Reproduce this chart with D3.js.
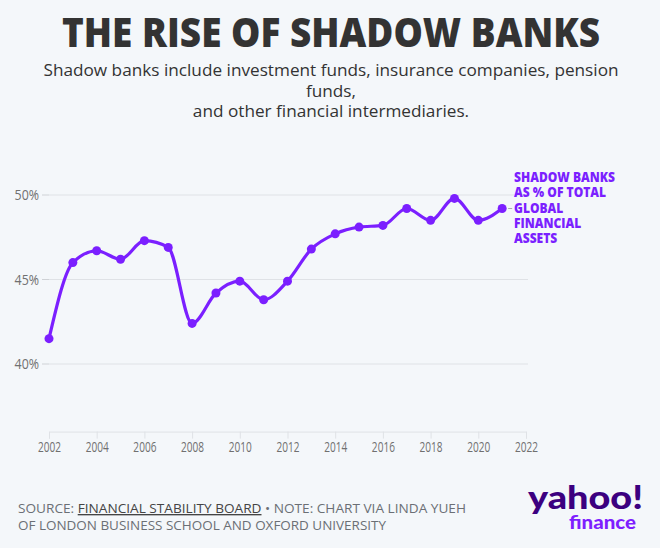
<!DOCTYPE html>
<html>
<head>
<meta charset="utf-8">
<script src="https://cdn.jsdelivr.net/npm/d3@7"></script>
<style>
  html, body { margin: 0; padding: 0; background: #f4f7fa; }
  svg { display: block; }
</style>
</head>
<body>
<svg id="chart"></svg>
<script>
// ----------------------------------------
//  Data
// ----------------------------------------

var years = [2002, 2003, 2004, 2005, 2006, 2007, 2008, 2009, 2010, 2011,
             2012, 2013, 2014, 2015, 2016, 2017, 2018, 2019, 2020, 2021];
var shadowShare = [41.5, 46.0, 46.7, 46.2, 47.3, 46.9, 42.4, 44.2, 44.9, 43.8,
                   44.9, 46.8, 47.7, 48.1, 48.2, 49.2, 48.5, 49.8, 48.5, 49.2];
var yTicks = [40, 45, 50];
var xTicks = [2002, 2004, 2006, 2008, 2010, 2012, 2014, 2016, 2018, 2020, 2022];
var seriesLabel = ["SHADOW BANKS", "AS % OF TOTAL", "GLOBAL", "FINANCIAL", "ASSETS"];
var subtitleLines = ["Shadow banks include investment funds, insurance companies, pension",
                     "funds,", "and other financial intermediaries."];

var data = years.map(function(y, i) { return { year: y, value: shadowShare[i] }; });

// ----------------------------------------
// Sizing
// ----------------------------------------

var width = 660, height = 548;
var purple = "#7b1fff";
var sans = "'Open Sans', sans-serif";

var svg = d3.select('#chart').attr("width", width).attr("height", height);

svg.append("rect").attr("width", width).attr("height", height).attr("fill", "#f4f7fa");

// squeeze text horizontally (no condensed font installed)
function squeeze(sel, k) {
  sel.each(function() {
    var len = this.getComputedTextLength();
    d3.select(this).attr("textLength", len * k).attr("lengthAdjust", "spacingAndGlyphs");
  });
}

// ----------------------------------------
// Scales
// ----------------------------------------

var x = d3.scaleLinear().domain([2002, 2022]).range([49, 526]);
var y = d3.scaleLinear().domain([36, 52]).range([431.6, 161.2]);

// ----------------------------------------
// Titles
// ----------------------------------------

svg.append("text")
  .attr("x", 331).attr("y", 47)
  .attr("text-anchor", "middle")
  .attr("font-family", sans).attr("font-weight", 800)
  .attr("font-size", 41).attr("fill", "#333")
  .attr("textLength", 538).attr("lengthAdjust", "spacingAndGlyphs")
  .text("THE RISE OF SHADOW BANKS");

svg.selectAll(".sub").data(subtitleLines).enter().append("text")
  .attr("class", "sub")
  .attr("x", 331).attr("y", function(d, i) { return 76 + i * 20.7; })
  .attr("text-anchor", "middle")
  .attr("font-family", sans)
  .attr("font-size", 17.2).attr("fill", "#333")
  .text(function(d) { return d; });

// ----------------------------------------
// Axes and grid
// ----------------------------------------

var grid = svg.append("g");
grid.selectAll("line").data(yTicks).enter().append("line")
  .attr("x1", 49).attr("x2", 528)
  .attr("y1", function(d) { return y(d); }).attr("y2", function(d) { return y(d); })
  .attr("stroke", "#dfe2e6").attr("stroke-width", 1);
// short ticks left of the grid
grid.selectAll(".yt").data(yTicks).enter().append("line")
  .attr("x1", 42).attr("x2", 49)
  .attr("y1", function(d) { return y(d); }).attr("y2", function(d) { return y(d); })
  .attr("stroke", "#cfd2d6").attr("stroke-width", 1);

var ylab = svg.selectAll(".ylab").data(yTicks).enter().append("text")
  .attr("class", "ylab")
  .attr("x", 39).attr("y", function(d) { return y(d) + 5; })
  .attr("text-anchor", "end")
  .attr("font-family", sans).attr("font-size", 13.8).attr("fill", "#707070")
  .text(function(d) { return d + "%"; });
squeeze(ylab, 0.9);

var xAxis = svg.append("g")
  .attr("transform", "translate(0," + y(36) + ")")
  .call(d3.axisBottom(x).tickValues(xTicks).tickFormat(d3.format("d")).tickSize(7).tickPadding(3));
xAxis.select(".domain").attr("stroke", "#dfe2e6");
xAxis.selectAll(".tick line").attr("stroke", "#dfe2e6");
xAxis.selectAll("text")
  .attr("font-family", sans).attr("font-size", 14).attr("fill", "#707070");
squeeze(xAxis.selectAll("text"), 0.72);

// ----------------------------------------
// Line and points
// ----------------------------------------

var line = d3.line()
  .x(function(d) { return x(d.year); })
  .y(function(d) { return y(d.value); })
  .curve(d3.curveMonotoneX);

svg.append("path").datum(data)
  .attr("d", line)
  .attr("fill", "none").attr("stroke", purple).attr("stroke-width", 3.2);

svg.selectAll(".dot").data(data).enter().append("circle")
  .attr("class", "dot")
  .attr("cx", function(d) { return x(d.year); })
  .attr("cy", function(d) { return y(d.value); })
  .attr("r", 4.5).attr("fill", purple);

// label next to the last point
var last = data[data.length - 1];
svg.append("line")
  .attr("x1", x(last.year) + 6).attr("x2", x(last.year) + 10)
  .attr("y1", y(last.value)).attr("y2", y(last.value))
  .attr("stroke", "#aaa");

var slab = svg.selectAll(".slab").data(seriesLabel).enter().append("text")
  .attr("class", "slab")
  .attr("x", 514).attr("y", function(d, i) { return 182 + i * 15.3; })
  .attr("font-family", sans).attr("font-weight", 800)
  .attr("font-size", 14.5).attr("fill", purple)
  .text(function(d) { return d; });
squeeze(slab, 101 / slab.node().getComputedTextLength());

// ----------------------------------------
// Footer
// ----------------------------------------

var foot = svg.append("text")
  .attr("x", 18).attr("y", 513)
  .attr("font-family", sans).attr("font-size", 13.5).attr("fill", "#6b6f75")
  .attr("textLength", 448).attr("lengthAdjust", "spacingAndGlyphs");
foot.append("tspan").text("SOURCE: ");
foot.append("tspan").attr("text-decoration", "underline").attr("fill", "#444").text("FINANCIAL STABILITY BOARD");
foot.append("tspan").text(" \u2022 NOTE: CHART VIA LINDA YUEH");

svg.append("text")
  .attr("x", 18).attr("y", 530)
  .attr("font-family", sans).attr("font-size", 13.5).attr("fill", "#6b6f75")
  .attr("textLength", 368).attr("lengthAdjust", "spacingAndGlyphs")
  .text("OF LONDON BUSINESS SCHOOL AND OXFORD UNIVERSITY");

// logo
svg.append("text")
  .attr("x", 528).attr("y", 509)
  .attr("font-family", "Lato, " + sans).attr("font-weight", 900)
  .attr("font-size", 32).attr("fill", "#3c0080")
  .attr("textLength", 115).attr("lengthAdjust", "spacingAndGlyphs")
  .text("yahoo!");

svg.append("text")
  .attr("x", 569).attr("y", 529)
  .attr("font-family", "Lato, " + sans).attr("font-weight", 900)
  .attr("font-size", 18).attr("fill", "#7e1fff")
  .attr("textLength", 67).attr("lengthAdjust", "spacingAndGlyphs")
  .text("finance");
</script>
</body>
</html>
